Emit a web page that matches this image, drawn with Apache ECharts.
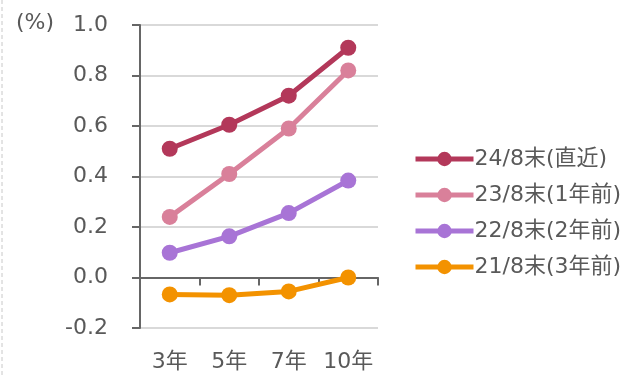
<!DOCTYPE html>
<html>
<head>
<meta charset="utf-8">
<script src="https://cdn.jsdelivr.net/npm/echarts@6/dist/echarts.min.js"></script>
<style>
  html, body { margin: 0; padding: 0; background: #fff; }
  #main { width: 637px; height: 376px; }
</style>
</head>
<body>
<div id="main"></div>
<script>
// 年限カテゴリ
const categories = ['3年', '5年', '7年', '10年'];
// 系列名
const seriesNames = ['24/8末(直近)', '23/8末(1年前)', '22/8末(2年前)', '21/8末(3年前)'];
// 各系列の値 (%)
const y2024 = [0.51, 0.605, 0.72, 0.91];
const y2023 = [0.24, 0.41, 0.59, 0.82];
const y2022 = [0.098, 0.163, 0.255, 0.384];
const y2021 = [-0.067, -0.070, -0.055, 0.0];
const colors = ['#B3385A', '#D9809A', '#A874D6', '#F39200'];

const font = 'DejaVu Sans, Noto Sans CJK JP, sans-serif';
const textColor = '#595959';
const fs = 22;

const myChart = echarts.init(document.getElementById('main'));

const makeSeries = (name, data, color) => ({
    name: name,
    type: 'line',
    data: data,
    xAxisIndex: 0,
    symbol: 'circle',
    symbolSize: 16,
    color: color,
    lineStyle: { width: 5, color: color },
    itemStyle: { color: color },
    animation: false
});

const option = {
    textStyle: { fontFamily: font },
    grid: { left: 140, right: 259, top: 25, bottom: 48 },
    legend: {
        orient: 'vertical',
        left: 408,
        top: 143,
        itemWidth: 58,
        itemHeight: 18,
        itemGap: 14,
        lineStyle: { width: 5 },
        textStyle: { fontSize: fs, color: textColor, fontFamily: font, padding: [0, 0, 0, -4] },
        data: seriesNames
    },
    graphic: [
        {
            type: 'line',
            shape: { x1: 2, y1: 0, x2: 2, y2: 376 },
            style: { stroke: '#c8c8c8', lineWidth: 1, lineDash: [4, 3] }
        },
        {
            type: 'text',
            left: 16,
            top: 12,
            style: { text: '(%)', fontSize: fs, fill: textColor, fontFamily: font }
        }
    ],
    xAxis: [
        {
            type: 'category',
            data: categories,
            axisLine: { onZero: true, lineStyle: { color: '#666', width: 2 } },
            axisTick: { show: true, length: 8, lineStyle: { color: '#666', width: 2 } },
            axisLabel: { show: false }
        },
        {
            type: 'category',
            data: categories,
            position: 'bottom',
            axisLine: { show: false },
            axisTick: { show: false },
            axisLabel: { interval: 0, fontSize: fs, color: textColor, margin: 23, fontFamily: font }
        }
    ],
    yAxis: {
        type: 'value',
        min: -0.2,
        max: 1.0,
        interval: 0.2,
        axisLine: { show: true, lineStyle: { color: '#666', width: 2 } },
        axisTick: { show: true, length: 8, lineStyle: { color: '#666', width: 2 } },
        axisLabel: {
            fontSize: fs, color: textColor, margin: 32, fontFamily: font,
            formatter: v => v.toFixed(1)
        },
        splitLine: { lineStyle: { color: '#d9d9d9', width: 2 } }
    },
    series: [
        makeSeries(seriesNames[0], y2024, colors[0]),
        makeSeries(seriesNames[1], y2023, colors[1]),
        makeSeries(seriesNames[2], y2022, colors[2]),
        makeSeries(seriesNames[3], y2021, colors[3])
    ]
};

myChart.setOption(option);
</script>
</body>
</html>
